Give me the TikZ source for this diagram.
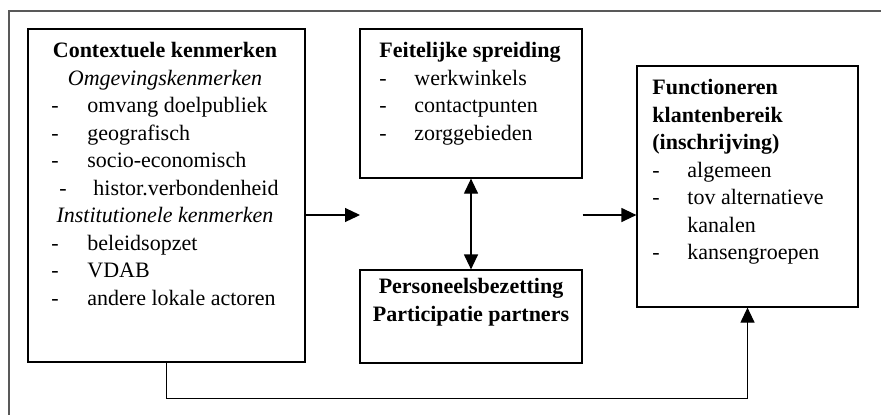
\documentclass[tikz,border=0pt]{standalone}
\usepackage{fontspec}
\setmainfont{Liberation Serif}
\usetikzlibrary{arrows.meta}

\tikzset{
  kader/.style={draw=black!65, line width=1pt},
  blok/.style={draw, rectangle, line width=0.6pt, inner sep=0pt},
  tekst/.style={inner sep=0pt, font=\fontsize{11}{13.75}\selectfont},
  pijl/.style={line width=0.6pt, -{Triangle[length=7.5pt,width=7pt]}},
  dubbelpijl/.style={line width=0.6pt, {Triangle[length=7.5pt,width=7pt]}-{Triangle[length=7.5pt,width=7pt]}}
}

\begin{document}
\begin{tikzpicture}[x=0.5pt, y=-0.5pt]
\clip (0,0) rectangle (881,414);
\useasboundingbox (0,0) rectangle (881,414);
\draw [kader] (9,11) rectangle (900,440);

\coordinate (gap) at (360,215);

\node [blok, minimum width=138.5pt, minimum height=166.5pt] (ctx) at (166.5,195.5) {};
\node [blok, minimum width=111pt, minimum height=74.5pt] (feit) at (471,103.5) {};
\node [blok, minimum width=111pt, minimum height=46.5pt] (pers) at (471,316.5) {};
\node [blok, minimum width=110.5pt, minimum height=120.5pt] (func) at (747.5,186.5) {};

\node [tekst, anchor=north] (ctx-txt) at (165,38) {%
\begin{tabular}{@{}p{18pt}@{}l@{}}
\multicolumn{2}{@{}c@{}}{\bfseries Contextuele kenmerken}\\
\multicolumn{2}{@{}c@{}}{\itshape Omgevingskenmerken}\\
- & omvang doelpubliek\\
- & geografisch\\
- & socio-economisch\\
\multicolumn{2}{@{}l@{}}{\hspace*{4pt}\makebox[17pt][l]{-}histor.verbondenheid}\\
\multicolumn{2}{@{}c@{}}{\itshape Institutionele kenmerken}\\
- & beleidsopzet\\
- & VDAB\\
- & andere lokale actoren
\end{tabular}};

\node [tekst, anchor=north] (feit-txt) at (470,38) {%
\begin{tabular}{@{}p{17.5pt}@{}l@{}}
\multicolumn{2}{@{}c@{}}{\bfseries Feitelijke spreiding}\\
- & werkwinkels\\
- & contactpunten\\
- & zorggebieden
\end{tabular}};

\node [tekst, anchor=north, align=center, font=\fontsize{11}{13.75}\selectfont\bfseries] (pers-txt) at (471,278)
  {Personeelsbezetting\\Participatie partners};

\node [tekst, anchor=north west] (func-txt) at (652,75) {%
\begin{tabular}{@{}p{17.5pt}@{}l@{}}
\multicolumn{2}{@{}l@{}}{\bfseries Functioneren}\\
\multicolumn{2}{@{}l@{}}{\bfseries klantenbereik}\\
\multicolumn{2}{@{}l@{}}{\bfseries (inschrijving)}\\
- & algemeen\\
- & tov alternatieve\\
  & kanalen\\
- & kansengroepen
\end{tabular}};

\draw [pijl] (ctx.east |- gap) -- (gap);
\draw [pijl] (feit.east |- gap) -- (func.west |- gap);
\draw [dubbelpijl] (feit.south) -- (pers.north);
\draw [pijl] (ctx.south) -- ++(0,36) -| (func.south);

\end{tikzpicture}
\end{document}
